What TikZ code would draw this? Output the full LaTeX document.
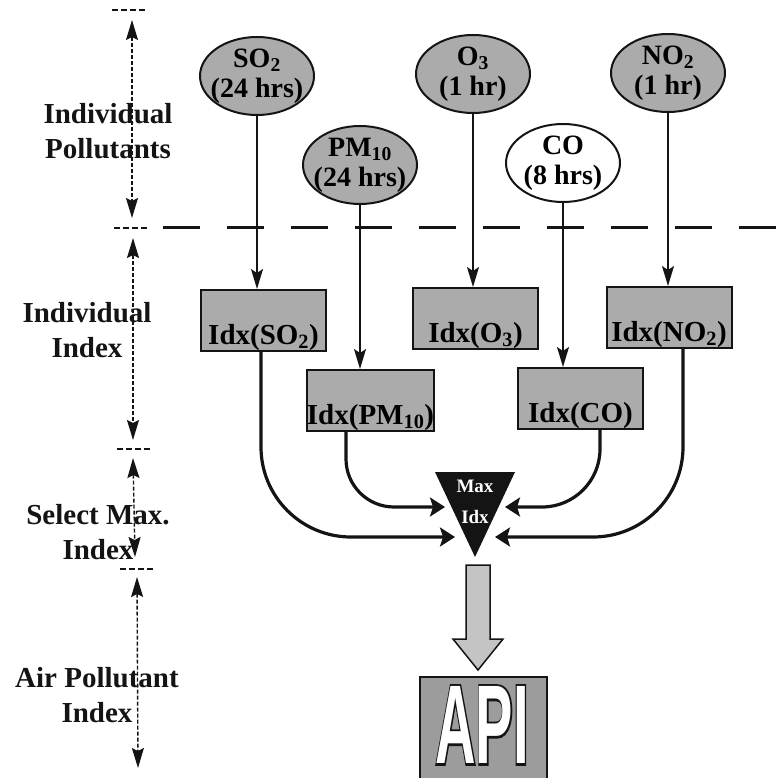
\documentclass[tikz,border=0pt]{standalone}
\usepackage{fontspec}
\setmainfont{Liberation Serif}
\newfontfamily\apifont{Liberation Sans Bold}
\newfontfamily\apirim{Liberation Sans Bold}[FakeBold=4]
\usepackage{graphicx}
\usepackage{tikz}
\usetikzlibrary{arrows.meta,shapes.geometric}
\definecolor{ink}{HTML}{141414}
\definecolor{halftone}{HTML}{ABABAB}
\definecolor{halflight}{HTML}{C4C4C4}
\definecolor{paper}{HTML}{FFFFFF}
\newcommand{\apiword}[1]{\scalebox{0.5}[1]{#1\fontsize{112}{112}\selectfont API}}
\tikzset{
  poll/.style={ellipse, draw=ink, line width=2pt, fill=halftone, minimum width=114pt, minimum height=78pt,
    inner xsep=-6pt, inner ysep=0pt, align=center, font=\fontsize{28}{30}\selectfont\bfseries},
  idx/.style={rectangle, draw=ink, line width=2pt, fill=halftone, minimum width=125pt, inner sep=0pt,
    text height=54pt, text depth=7pt, font=\fontsize{29}{35}\selectfont\bfseries},
  feed/.style={draw=ink, line width=1.6pt, -{Stealth[length=20pt,width=12pt,inset=4pt]}},
  flow/.style={draw=ink, line width=3.2pt, -{Stealth[length=15pt,width=19pt,inset=3pt]}},
  band/.style={draw=ink, line width=1.4pt, dash pattern=on 4pt off 2pt,
    {Stealth[length=20pt,width=12pt,inset=3pt]}-{Stealth[length=20pt,width=12pt,inset=3pt]}},
  tickline/.style={draw=ink, line width=1.3pt, dash pattern=on 6pt off 3pt},
  divider/.style={draw=ink, line width=3pt, dash pattern=on 37pt off 27pt},
  lab/.style={text=ink, align=center, font=\fontsize{29}{35}\selectfont\bfseries},
  maxlab/.style={text=paper, align=center, font=\fontsize{19}{31}\selectfont\bfseries},
  apibox/.style={rectangle, draw=ink, line width=2pt, fill=halftone!90!ink, minimum width=127pt, minimum height=102pt},
  apitext/.style={inner sep=0pt, anchor=center},
}

\begin{document}
\begin{tikzpicture}[x=1pt,y=-1pt]
  \useasboundingbox (0,0) rectangle (779,778);

  % level bands on the left
  \foreach \ya/\xa in {10/112,228/114,449/117,569/120}
    \draw[tickline] (\xa,\ya) -- ++(34,0);
  \draw[band] (132,20) -- (132,218);
  \draw[band] (133,238) -- (133,440);
  \draw[band] (133,458) -- (135,557);
  \draw[band] (137,577) -- (138,768);

  \node[lab] (pollutants) at (108,131) {Individual\\Pollutants};
  \node[lab] (indindex) at (87,330) {Individual\\Index};
  \node[lab] (selmax) at (98,532) {Select Max.\\Index};
  \node[lab] (apilab) at (97,695) {Air Pollutant\\Index};

  \draw[divider] (163,228) -- (779,228);

  % pollutants
  \node[poll] (so2) at (257,76) {SO\textsubscript{2}\\(24 hrs)};
  \node[poll] (pm10) at (360,165) {PM\textsubscript{10}\\(24 hrs)};
  \node[poll] (o3) at (473,74) {O\textsubscript{3}\\(1 hr)};
  \node[poll, fill=paper] (co) at (563,163) {CO\\(8 hrs)};
  \node[poll] (no2) at (668,73) {NO\textsubscript{2}\\(1 hr)};

  % sub-indices
  \node[idx] (idxso2) at (263.5,320.5) {Idx(SO\textsubscript{2})};
  \node[idx, minimum width=127pt] (idxpm) at (370.5,400.5) {Idx(PM\textsubscript{10})};
  \node[idx] (idxo3) at (475.5,318.5) {Idx(O\textsubscript{3})};
  \node[idx] (idxco) at (580.5,398.5) {Idx(CO)};
  \node[idx] (idxno2) at (669,317.5) {Idx(NO\textsubscript{2})};

  \draw[feed] (so2.south) -- (so2.south |- idxso2.north);
  \draw[feed] (pm10.south) -- (pm10.south |- idxpm.north);
  \draw[feed] (o3.south) -- (o3.south |- idxo3.north);
  \draw[feed] (co.south) -- (co.south |- idxco.north);
  \draw[feed] (no2.south) -- (no2.south |- idxno2.north);

  % maximum selector
  \fill[ink] (435,472) -- (515,472) -- (475,557) -- cycle;
  \node[maxlab] (maxidx) at (475,502) {Max\\Idx};
  \coordinate (inpm) at (445,507);
  \coordinate (inso2) at (455,537);
  \coordinate (inco) at (505,507);
  \coordinate (inno2) at (495,537);

  \draw[flow, rounded corners=48pt] ([xshift=-24.5pt]idxpm.south) |- (inpm);
  \draw[flow, rounded corners=90pt] ([xshift=-2.5pt]idxso2.south) |- (inso2);
  \draw[flow, rounded corners=58pt] ([xshift=19.5pt]idxco.south) |- (inco);
  \draw[flow, rounded corners=90pt] ([xshift=14pt]idxno2.south) |- (inno2);

  % result
  \filldraw[fill=halflight, draw=ink, line width=1.5pt]
    (466,565) -- (490,565) -- (490,639) -- (503,639) -- (478,670) -- (453,639) -- (466,639) -- cycle;
  \node[apibox] (api) at (483.5,728) {};
  \node[apitext, text=ink] (apirim) at (482,725) {\apiword{\apirim}};
  \node[apitext, text=paper] (apiword) at (apirim.center) {\apiword{\apifont}};
\end{tikzpicture}
\end{document}
